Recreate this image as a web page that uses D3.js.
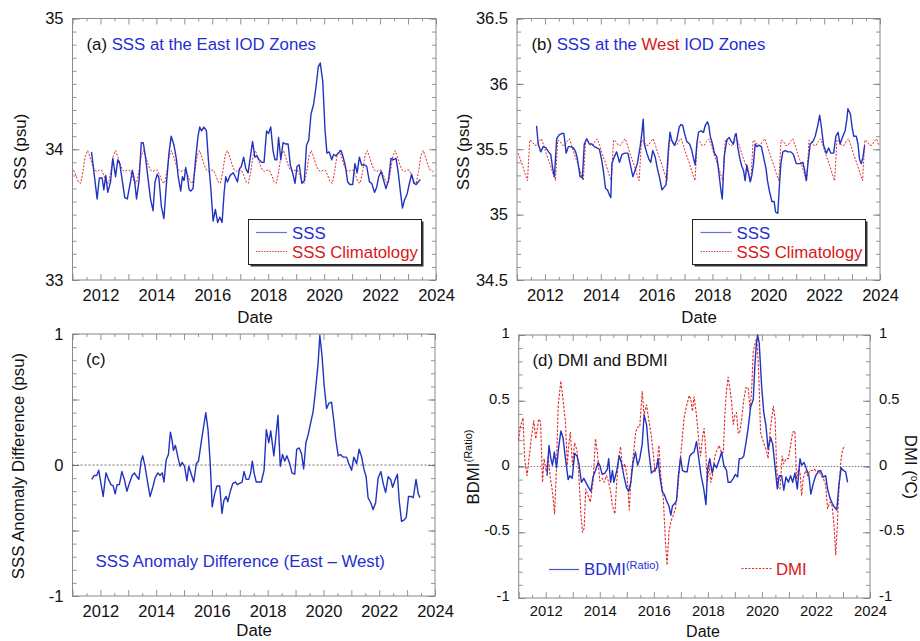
<!DOCTYPE html>
<html><head><meta charset="utf-8">
<script src="https://cdn.jsdelivr.net/npm/d3@7/dist/d3.min.js"></script>
<style>
body{margin:0;background:#fff}
svg{display:block;font-family:"Liberation Sans",Arial,Helvetica,sans-serif}
</style>
</head><body>
<svg id="chart" width="920" height="641"></svg>
<script>
// ---------------- DATA ----------------
const xTickLabels = [2012, 2014, 2016, 2018, 2020, 2022, 2024];
const xMajorTicks = [2011,2012,2013,2014,2015,2016,2017,2018,2019,2020,2021,2022,2023,2024];
const months = [0,1,2,3,4,5,6,7,8,9,10,11];
const climYears = [2011,2012,2013,2014,2015,2016,2017,2018,2019,2020,2021,2022,2023];

// (a) East IOD zone SSS
const eastDates = [2011.68,2011.88,2011.96,2012.06,2012.12,2012.19,2012.26,2012.36,2012.44,2012.54,2012.62,2012.69,2012.78,2012.87,2012.96,2013.08,2013.14,2013.22,2013.29,2013.38,2013.46,2013.53,2013.61,2013.71,2013.79,2013.88,2013.95,2014.03,2014.09,2014.18,2014.27,2014.35,2014.45,2014.53,2014.63,2014.72,2014.78,2014.87,2014.93,2014.99,2015.05,2015.11,2015.17,2015.23,2015.31,2015.40,2015.49,2015.55,2015.62,2015.70,2015.79,2015.86,2015.95,2016.03,2016.11,2016.19,2016.27,2016.35,2016.42,2016.48,2016.54,2016.64,2016.75,2016.82,2016.90,2016.97,2017.04,2017.12,2017.20,2017.28,2017.36,2017.44,2017.52,2017.59,2017.67,2017.77,2017.85,2017.94,2018.01,2018.09,2018.17,2018.24,2018.31,2018.37,2018.45,2018.53,2018.63,2018.71,2018.79,2018.87,2018.96,2019.03,2019.11,2019.20,2019.29,2019.37,2019.45,2019.53,2019.62,2019.71,2019.79,2019.86,2019.95,2020.03,2020.10,2020.18,2020.27,2020.34,2020.42,2020.50,2020.60,2020.68,2020.76,2020.84,2020.92,2021.02,2021.10,2021.18,2021.26,2021.34,2021.44,2021.52,2021.62,2021.70,2021.80,2021.88,2021.95,2022.04,2022.13,2022.21,2022.30,2022.39,2022.48,2022.57,2022.65,2022.73,2022.80,2022.87,2022.97,2023.05,2023.13,2023.21,2023.29,2023.44];
const eastSSS = [33.98,33.62,33.78,33.78,33.69,33.80,33.67,33.75,33.93,33.79,33.92,33.89,33.76,33.63,33.62,33.76,33.84,33.76,33.62,33.76,34.05,34.05,33.94,33.76,33.62,33.53,33.75,33.81,33.78,33.56,33.47,33.71,33.97,34.10,34.03,33.92,33.79,33.68,33.79,33.76,33.86,33.79,33.69,33.68,33.70,33.92,34.10,34.17,34.14,34.17,34.14,33.92,33.69,33.45,33.54,33.44,33.48,33.44,33.66,33.79,33.75,33.80,33.82,33.79,33.75,33.85,33.87,33.94,33.85,33.82,33.94,34.06,33.94,33.95,33.92,33.90,33.90,34.14,34.12,34.17,33.99,33.92,33.92,34.09,33.92,34.05,34.04,34.04,33.88,33.82,33.74,33.87,33.88,33.74,33.76,34.03,34.07,34.27,34.34,34.48,34.63,34.66,34.52,34.15,33.97,33.98,33.92,33.96,33.95,33.97,33.99,33.94,33.87,33.75,33.73,33.73,33.89,33.82,33.94,33.88,33.88,33.87,33.75,33.74,33.67,33.71,33.79,33.83,33.76,33.70,33.76,33.93,33.92,33.93,33.82,33.67,33.55,33.61,33.66,33.74,33.81,33.74,33.73,33.77];
const eastClim = [33.84,33.80,33.75,33.74,33.83,33.95,33.99,33.94,33.88,33.84,33.83,33.84];

// (b) West IOD zone SSS
const westDates = [2011.70,2011.76,2011.85,2011.94,2012.04,2012.13,2012.21,2012.28,2012.34,2012.42,2012.51,2012.60,2012.68,2012.76,2012.84,2012.92,2013.02,2013.10,2013.16,2013.26,2013.34,2013.41,2013.50,2013.59,2013.68,2013.77,2013.86,2013.95,2014.03,2014.09,2014.17,2014.24,2014.31,2014.36,2014.40,2014.48,2014.57,2014.67,2014.76,2014.87,2014.97,2015.05,2015.15,2015.23,2015.31,2015.41,2015.47,2015.52,2015.56,2015.65,2015.73,2015.79,2015.86,2015.95,2016.03,2016.10,2016.19,2016.27,2016.34,2016.42,2016.48,2016.54,2016.64,2016.72,2016.81,2016.88,2016.94,2017.00,2017.08,2017.18,2017.26,2017.32,2017.38,2017.44,2017.50,2017.58,2017.68,2017.74,2017.82,2017.87,2017.92,2018.00,2018.07,2018.16,2018.23,2018.30,2018.35,2018.42,2018.51,2018.60,2018.67,2018.75,2018.81,2018.85,2018.91,2018.99,2019.05,2019.11,2019.17,2019.23,2019.29,2019.35,2019.41,2019.47,2019.53,2019.59,2019.67,2019.75,2019.84,2019.92,2019.97,2020.04,2020.13,2020.21,2020.26,2020.34,2020.40,2020.45,2020.52,2020.61,2020.70,2020.81,2020.90,2021.00,2021.08,2021.17,2021.24,2021.30,2021.36,2021.42,2021.50,2021.60,2021.68,2021.76,2021.84,2021.90,2021.98,2022.08,2022.16,2022.24,2022.34,2022.42,2022.50,2022.57,2022.67,2022.75,2022.82,2022.85,2022.94,2023.00,2023.06,2023.15,2023.21,2023.27,2023.33,2023.39,2023.45];
const westSSS = [35.68,35.54,35.48,35.52,35.51,35.48,35.46,35.35,35.29,35.58,35.61,35.62,35.62,35.47,35.52,35.52,35.51,35.48,35.43,35.29,35.28,35.54,35.58,35.54,35.54,35.52,35.51,35.50,35.42,35.34,35.20,35.19,35.15,35.13,35.39,35.44,35.48,35.40,35.46,35.47,35.47,35.39,35.29,35.34,35.39,35.52,35.62,35.73,35.54,35.47,35.42,35.40,35.49,35.44,35.35,35.29,35.19,35.21,35.23,35.49,35.63,35.57,35.53,35.57,35.67,35.69,35.68,35.62,35.56,35.54,35.49,35.43,35.38,35.54,35.63,35.64,35.63,35.68,35.71,35.68,35.60,35.54,35.47,35.44,35.32,35.19,35.12,35.44,35.57,35.59,35.56,35.54,35.61,35.62,35.51,35.42,35.37,35.34,35.26,35.38,35.32,35.25,35.30,35.39,35.54,35.52,35.53,35.52,35.43,35.35,35.26,35.18,35.10,35.10,35.02,35.01,35.23,35.39,35.48,35.49,35.48,35.48,35.46,35.39,35.39,35.39,35.40,35.34,35.26,35.39,35.54,35.56,35.60,35.67,35.76,35.67,35.53,35.47,35.51,35.47,35.47,35.60,35.63,35.54,35.60,35.64,35.74,35.81,35.77,35.67,35.60,35.60,35.54,35.42,35.39,35.44,35.53];
const westClim = [35.47,35.42,35.37,35.31,35.26,35.57,35.56,35.53,35.53,35.56,35.58,35.53];

// (c) SSS anomaly difference (East - West)
const diffDates = [2011.69,2011.78,2011.87,2011.94,2012.02,2012.10,2012.20,2012.29,2012.38,2012.46,2012.53,2012.60,2012.68,2012.77,2012.86,2012.95,2013.04,2013.14,2013.22,2013.31,2013.38,2013.46,2013.52,2013.60,2013.70,2013.78,2013.88,2013.96,2014.06,2014.14,2014.22,2014.28,2014.36,2014.44,2014.51,2014.57,2014.62,2014.69,2014.78,2014.86,2014.93,2015.02,2015.10,2015.17,2015.26,2015.35,2015.44,2015.52,2015.62,2015.70,2015.78,2015.86,2015.94,2016.01,2016.10,2016.18,2016.28,2016.36,2016.43,2016.51,2016.57,2016.66,2016.75,2016.84,2016.91,2016.99,2017.08,2017.15,2017.23,2017.32,2017.39,2017.45,2017.51,2017.59,2017.68,2017.77,2017.87,2017.95,2018.04,2018.11,2018.22,2018.29,2018.37,2018.45,2018.53,2018.61,2018.69,2018.79,2018.87,2018.97,2019.04,2019.13,2019.21,2019.29,2019.37,2019.45,2019.54,2019.63,2019.71,2019.81,2019.87,2019.95,2020.02,2020.11,2020.19,2020.29,2020.37,2020.44,2020.53,2020.61,2020.71,2020.83,2020.91,2021.01,2021.09,2021.19,2021.28,2021.37,2021.45,2021.53,2021.60,2021.70,2021.78,2021.87,2021.96,2022.06,2022.14,2022.23,2022.32,2022.41,2022.48,2022.56,2022.65,2022.72,2022.80,2022.89,2022.97,2023.05,2023.14,2023.22,2023.32,2023.40,2023.46];
const diffSSS = [-0.11,-0.08,-0.08,-0.04,-0.14,-0.24,-0.06,-0.11,-0.15,-0.16,-0.22,-0.15,-0.15,-0.05,-0.11,-0.20,-0.14,-0.08,-0.06,-0.09,-0.11,0.03,0.07,-0.01,-0.14,-0.24,-0.17,-0.10,-0.06,-0.08,-0.06,-0.13,0.04,0.08,0.25,0.19,0.11,0.15,0.06,-0.01,0.02,-0.01,-0.12,-0.01,-0.07,-0.13,0.01,0.03,0.18,0.29,0.40,0.27,0.01,-0.32,-0.22,-0.16,-0.16,-0.37,-0.27,-0.24,-0.28,-0.20,-0.14,-0.13,-0.15,-0.14,-0.13,-0.05,-0.11,-0.11,-0.06,0.03,-0.06,-0.13,-0.13,-0.13,-0.04,0.27,0.17,0.26,0.07,0.21,0.38,-0.01,0.08,0.03,0.07,0.01,-0.06,-0.07,0.12,0.13,0.09,-0.03,0.17,0.23,0.32,0.41,0.56,0.78,0.99,0.83,0.62,0.43,0.47,0.48,0.34,0.20,0.07,0.08,0.06,0.06,0.01,-0.04,0.06,0.01,0.12,0.06,-0.03,-0.09,-0.25,-0.29,-0.34,-0.29,-0.10,-0.05,-0.14,-0.21,-0.09,-0.11,-0.17,-0.12,-0.07,-0.28,-0.43,-0.42,-0.40,-0.24,-0.24,-0.25,-0.11,-0.22,-0.25];

// (d) BDMI (ratio) and DMI
const bdmiDates = [2012.05,2012.12,2012.19,2012.25,2012.32,2012.40,2012.47,2012.56,2012.64,2012.73,2012.83,2012.89,2012.98,2013.07,2013.16,2013.23,2013.32,2013.41,2013.51,2013.59,2013.67,2013.75,2013.84,2013.94,2014.00,2014.09,2014.19,2014.28,2014.33,2014.40,2014.47,2014.52,2014.62,2014.72,2014.80,2014.89,2014.99,2015.07,2015.15,2015.23,2015.32,2015.40,2015.48,2015.57,2015.64,2015.73,2015.81,2015.91,2016.01,2016.10,2016.16,2016.22,2016.31,2016.38,2016.47,2016.56,2016.63,2016.69,2016.78,2016.84,2016.91,2016.99,2017.06,2017.15,2017.23,2017.33,2017.42,2017.49,2017.58,2017.67,2017.75,2017.84,2017.93,2017.99,2018.07,2018.16,2018.23,2018.32,2018.42,2018.51,2018.59,2018.69,2018.75,2018.84,2018.94,2019.02,2019.10,2019.16,2019.25,2019.33,2019.41,2019.49,2019.58,2019.68,2019.74,2019.80,2019.84,2019.90,2019.99,2020.07,2020.15,2020.23,2020.32,2020.40,2020.48,2020.57,2020.64,2020.73,2020.81,2020.89,2020.98,2021.06,2021.14,2021.22,2021.31,2021.41,2021.47,2021.56,2021.65,2021.74,2021.81,2021.90,2021.99,2022.09,2022.17,2022.27,2022.36,2022.43,2022.52,2022.60,2022.69,2022.77,2022.85,2022.93,2023.01,2023.10,2023.17];
const bdmiVals = [-0.07,0.16,0.06,0.01,0.11,-0.01,0.13,0.27,0.22,0.06,-0.10,-0.07,-0.09,0.10,0.08,0.02,-0.12,-0.09,-0.13,-0.16,-0.19,-0.08,-0.03,0.03,0.01,-0.06,-0.05,-0.02,0.06,-0.12,-0.03,-0.12,-0.04,0.08,0.03,-0.07,-0.16,-0.19,-0.12,0.03,0.11,0.01,0.06,0.17,0.39,0.32,0.12,-0.05,-0.03,-0.01,0.06,-0.07,-0.19,-0.21,-0.26,-0.30,-0.37,-0.30,-0.28,-0.26,-0.07,0.07,-0.03,-0.04,-0.04,0.08,0.10,0.11,0.19,0.05,-0.07,-0.16,-0.29,-0.02,0.06,-0.05,0.02,-0.01,0.05,0.11,0.01,-0.03,-0.12,-0.12,-0.09,-0.06,-0.08,0.06,0.06,0.08,0.18,0.29,0.45,0.51,0.77,0.94,1.00,0.94,0.61,0.41,0.31,0.13,0.22,0.17,0.01,-0.17,-0.07,-0.07,-0.18,-0.08,-0.12,-0.07,-0.12,-0.05,-0.17,0.06,0.01,0.03,-0.02,-0.07,-0.21,-0.13,-0.07,-0.04,-0.03,-0.08,-0.07,-0.17,-0.24,-0.28,-0.31,-0.33,-0.14,-0.01,-0.03,-0.04,-0.12];
const dmiDates = [2010.99,2011.07,2011.16,2011.22,2011.31,2011.38,2011.47,2011.56,2011.63,2011.74,2011.81,2011.88,2011.94,2012.02,2012.09,2012.17,2012.25,2012.33,2012.40,2012.46,2012.56,2012.64,2012.73,2012.80,2012.85,2012.91,2012.99,2013.07,2013.16,2013.23,2013.30,2013.36,2013.42,2013.48,2013.57,2013.65,2013.75,2013.84,2013.91,2014.00,2014.09,2014.16,2014.25,2014.33,2014.40,2014.47,2014.56,2014.62,2014.70,2014.77,2014.84,2014.93,2015.01,2015.09,2015.17,2015.26,2015.33,2015.40,2015.48,2015.57,2015.64,2015.73,2015.81,2015.91,2015.98,2016.04,2016.10,2016.19,2016.26,2016.35,2016.43,2016.49,2016.56,2016.63,2016.72,2016.80,2016.88,2016.96,2017.05,2017.12,2017.21,2017.31,2017.37,2017.43,2017.49,2017.58,2017.67,2017.73,2017.80,2017.86,2017.91,2017.98,2018.05,2018.11,2018.17,2018.26,2018.35,2018.42,2018.51,2018.57,2018.63,2018.69,2018.75,2018.81,2018.88,2018.94,2019.00,2019.06,2019.12,2019.17,2019.25,2019.33,2019.41,2019.49,2019.56,2019.62,2019.68,2019.74,2019.80,2019.84,2019.89,2019.95,2020.02,2020.10,2020.17,2020.23,2020.30,2020.36,2020.42,2020.49,2020.54,2020.60,2020.67,2020.75,2020.81,2020.89,2020.98,2021.06,2021.14,2021.22,2021.28,2021.35,2021.41,2021.47,2021.53,2021.62,2021.69,2021.78,2021.86,2021.94,2022.02,2022.11,2022.19,2022.27,2022.36,2022.43,2022.52,2022.60,2022.67,2022.73,2022.79,2022.85,2022.93,2022.99,2023.07];
const dmiVals = [0.20,0.31,0.37,0.06,-0.07,0.06,0.22,0.35,0.21,0.36,0.34,-0.12,0.06,-0.04,0.08,-0.09,-0.19,-0.36,0.01,0.46,0.65,0.51,0.34,0.01,0.16,0.26,0.01,0.18,0.12,-0.09,-0.35,-0.50,-0.47,-0.17,-0.22,-0.27,-0.12,0.21,0.11,-0.11,-0.09,-0.12,-0.07,-0.12,-0.19,-0.30,-0.36,-0.14,0.07,0.15,-0.02,0.02,-0.07,-0.33,-0.04,0.12,0.26,0.30,0.30,0.57,0.39,0.47,0.36,0.23,0.10,-0.04,-0.01,0.16,-0.07,-0.24,-0.57,-0.75,-0.50,-0.42,-0.37,-0.32,-0.19,0.01,0.21,0.37,0.46,0.54,0.51,0.42,0.53,0.39,0.18,0.08,0.22,0.29,0.16,-0.12,0.01,-0.12,-0.07,0.08,0.13,0.16,0.10,0.11,0.39,0.58,0.68,0.60,0.49,0.32,0.39,0.41,0.26,0.25,0.36,0.51,0.60,0.60,0.44,0.58,0.87,0.93,0.97,0.89,0.66,0.26,0.21,0.16,0.12,0.06,0.26,0.36,0.46,0.36,0.01,-0.16,-0.17,0.08,0.02,0.06,0.06,0.16,0.26,0.27,-0.09,-0.02,-0.04,-0.22,-0.09,-0.03,-0.07,-0.03,-0.03,-0.02,-0.04,-0.03,-0.07,-0.09,-0.14,-0.32,-0.27,-0.30,-0.45,-0.67,-0.45,-0.17,0.06,0.13,0.16];

// ---------------- STYLE ----------------
const BLUE = "#2233c0", TBLUE = "#1f2ed0", RED = "#e32a2a", TRED = "#d81818";
const FS = 16.8;
const svg = d3.select("#chart");

function zip(ds, vs){ return ds.map((d,i)=>({t:d, v:vs[i]})); }
function climSeries(clim){
  const out = [];
  climYears.forEach(y => months.forEach(m => out.push({t: y + (m + 0.5)/12, v: clim[m]})));
  return out;
}

function panel(o){
  const x = d3.scaleLinear().domain([2011, 2024]).range([o.x0, o.x1]);
  const y = d3.scaleLinear().domain(o.yDom).range([o.y1, o.y0]);
  const g = svg.append("g");
  const tfs = o.tickFs || 16.5;
  const mk = (axis, tr, vals, size, fmt, pad, dy) => {
    const a = g.append("g").attr("transform", tr)
      .call(axis.tickValues(vals).tickSize(size).tickPadding(pad || 9).tickFormat(fmt));
    a.select(".domain").remove();
    a.selectAll("line").attr("stroke", "#777").attr("stroke-width", 0.8);
    a.selectAll("text").attr("font-size", tfs).attr("fill", "#111").attr("font-family", null);
    if (dy) a.selectAll("text").attr("dy", dy);
    return a;
  };
  const none = () => "";
  const xMinor = xMajorTicks.slice(0, -1).map(v => v + 0.5);
  mk(d3.axisBottom(x), `translate(0,${o.y1})`, xMajorTicks, -6, d => xTickLabels.includes(d) ? d : "", o.xPad || 9);
  mk(d3.axisBottom(x), `translate(0,${o.y1})`, xMinor, -3, none);
  mk(d3.axisTop(x), `translate(0,${o.y0})`, xMajorTicks, -6, none);
  mk(d3.axisTop(x), `translate(0,${o.y0})`, xMinor, -3, none);
  mk(d3.axisLeft(y), `translate(${o.x0},0)`, o.yMajor, -7, o.yFmt, 9, o.yDy);
  mk(d3.axisLeft(y), `translate(${o.x0},0)`, o.yMinor, -4, none);
  mk(d3.axisRight(y), `translate(${o.x1},0)`, o.yMajor, -7, o.rightLabels ? o.yFmt : none, 9, o.yDy);
  mk(d3.axisRight(y), `translate(${o.x1},0)`, o.yMinor, -4, none);
  g.append("rect").attr("x", o.x0).attr("y", o.y0).attr("width", o.x1 - o.x0).attr("height", o.y1 - o.y0)
    .attr("fill", "none").attr("stroke", "#888").attr("stroke-width", 1);
  return {g, x, y};
}

function line(p, data, color, width, dash){
  p.g.append("path").datum(data)
    .attr("d", d3.line().x(d => p.x(d.t)).y(d => p.y(d.v)))
    .attr("fill", "none").attr("stroke", color).attr("stroke-width", width)
    .attr("stroke-dasharray", dash || null).attr("stroke-linejoin", "round");
}

function legendBox(x, y, w, h){
  svg.append("rect").attr("x", x + 2).attr("y", y + 2).attr("width", w).attr("height", h).attr("fill", "#333");
  svg.append("rect").attr("x", x).attr("y", y).attr("width", w).attr("height", h)
    .attr("fill", "#fff").attr("stroke", "#222").attr("stroke-width", 1);
}
function txt(x, y, s, opts){
  const t = svg.append("text").attr("x", x).attr("y", y).attr("font-size", (opts && opts.size) || FS)
    .attr("fill", (opts && opts.fill) || "#111").text(s);
  if (opts && opts.anchor) t.attr("text-anchor", opts.anchor);
  if (opts && opts.rot) t.attr("transform", `rotate(${opts.rot},${x},${y})`);
  return t;
}

const fmtA = d => d3.format("d")(d);

// ---------------- (a) ----------------
const pa = panel({x0:72.5, x1:436, y0:18.5, y1:280, yDom:[33,35], yMajor:[33,34,35],
  yMinor:d3.range(33, 35.001, 0.1).map(v => +v.toFixed(1)), yFmt: fmtA});
line(pa, climSeries(eastClim), RED, 1.0, "2,1.5");
line(pa, zip(eastDates, eastSSS), BLUE, 1.4);
let t = txt(86.5, 50, "(a) ");
t.append("tspan").attr("fill", TBLUE).text("SSS at the East IOD Zones");
legendBox(248.5, 219.5, 173, 45);
svg.append("line").attr("x1", 256).attr("x2", 287).attr("y1", 232.5).attr("y2", 232.5).attr("stroke", "#6672dc").attr("stroke-width", 1.2);
svg.append("line").attr("x1", 256).attr("x2", 287).attr("y1", 251.5).attr("y2", 251.5).attr("stroke", RED).attr("stroke-width", 0.9).attr("stroke-dasharray", "1.5,1.2");
txt(292, 238.5, "SSS", {fill: TBLUE});
txt(292, 257.5, "SSS Climatology", {fill: TRED});
txt(20, 152, "SSS (psu)", {anchor:"middle", rot:-90}).attr("dy", "0.35em");
txt(255, 323, "Date", {anchor:"middle"});

// ---------------- (b) ----------------
const pb = panel({x0:517, x1:880, y0:18.5, y1:280, yDom:[34.5,36.5], yMajor:[34.5,35,35.5,36,36.5],
  yMinor:d3.range(34.5, 36.501, 0.1).map(v => +v.toFixed(1)), yFmt: d => String(d)});
line(pb, climSeries(westClim), RED, 1.0, "2,1.5");
line(pb, zip(westDates, westSSS), BLUE, 1.4);
t = txt(531.5, 50, "(b) ");
t.append("tspan").attr("fill", TBLUE).text("SSS at the ");
t.append("tspan").attr("fill", TRED).text("West");
t.append("tspan").attr("fill", TBLUE).text(" IOD Zones");
legendBox(692.5, 219.5, 173, 45);
svg.append("line").attr("x1", 700.5).attr("x2", 731.5).attr("y1", 232.5).attr("y2", 232.5).attr("stroke", "#6672dc").attr("stroke-width", 1.2);
svg.append("line").attr("x1", 700.5).attr("x2", 731.5).attr("y1", 251.5).attr("y2", 251.5).attr("stroke", RED).attr("stroke-width", 0.9).attr("stroke-dasharray", "1.5,1.2");
txt(736.5, 238.5, "SSS", {fill: TBLUE});
txt(736.5, 257.5, "SSS Climatology", {fill: TRED});
txt(463, 152, "SSS (psu)", {anchor:"middle", rot:-90}).attr("dy", "0.35em");
txt(699, 323, "Date", {anchor:"middle"});

// ---------------- (c) ----------------
const pc = panel({x0:72.5, x1:435, y0:334, y1:596, yDom:[-1,1], yMajor:[-1,-0.5,0,0.5,1],
  yMinor:d3.range(-1, 1.001, 0.1).map(v => +v.toFixed(1)), yFmt: d => Number.isInteger(d) ? String(d) : ""});
pc.g.append("line").attr("x1", pc.x(2011)).attr("x2", pc.x(2024)).attr("y1", pc.y(0)).attr("y2", pc.y(0))
  .attr("stroke", "#333").attr("stroke-width", 0.7).attr("stroke-dasharray", "2,2");
line(pc, zip(diffDates, diffSSS), BLUE, 1.4);
txt(86, 365, "(c)");
txt(95.5, 567, "SSS Anomaly Difference (East \u2013 West)", {fill: TBLUE});
txt(18.5, 466, "SSS Anomaly Difference (psu)", {anchor:"middle", rot:-90}).attr("dy", "0.35em");
txt(254, 636, "Date", {anchor:"middle"});

// ---------------- (d) ----------------
const pd = panel({x0:518.7, x1:870, y0:335, y1:598, yDom:[-1,1], yMajor:[-1,-0.5,0,0.5,1],
  yMinor:d3.range(-1, 1.001, 0.1).map(v => +v.toFixed(1)), yFmt: d => String(d), rightLabels: true,
  tickFs: 14.8, xPad: 7, yDy: "0.18em"});
pd.g.append("line").attr("x1", pd.x(2011)).attr("x2", pd.x(2024)).attr("y1", pd.y(0)).attr("y2", pd.y(0))
  .attr("stroke", "#444").attr("stroke-width", 0.7).attr("stroke-dasharray", "1.5,1.5");
line(pd, zip(dmiDates, dmiVals), RED, 1.1, "2.5,1.5");
line(pd, zip(bdmiDates, bdmiVals), BLUE, 1.4);
txt(532.5, 366, "(d)  DMI and BDMI");
svg.append("line").attr("x1", 549).attr("x2", 579).attr("y1", 569.5).attr("y2", 569.5).attr("stroke", "#4455d0").attr("stroke-width", 1.2);
t = txt(584, 575, "BDMI", {fill: TBLUE});
t.append("tspan").attr("dy", -6).attr("font-size", 11).text("(Ratio)");
svg.append("line").attr("x1", 741.5).attr("x2", 771.5).attr("y1", 568.5).attr("y2", 568.5).attr("stroke", RED).attr("stroke-width", 1).attr("stroke-dasharray", "2,1.5");
txt(776, 575, "DMI", {fill: TRED});
t = txt(473, 467, "BDMI", {anchor:"middle", rot:-90}).attr("dy", "0.35em");
t.append("tspan").attr("dy", -7).attr("font-size", 11).text("(Ratio)");
t = txt(911, 467, "DMI (", {anchor:"middle", rot:90}).attr("dy", "0.35em");
t.append("tspan").attr("dy", -6).attr("font-size", 10).text("o");
t.append("tspan").attr("dy", 6).text("C)");
txt(703, 637, "Date", {anchor:"middle", size:16});
</script>
</body></html>
